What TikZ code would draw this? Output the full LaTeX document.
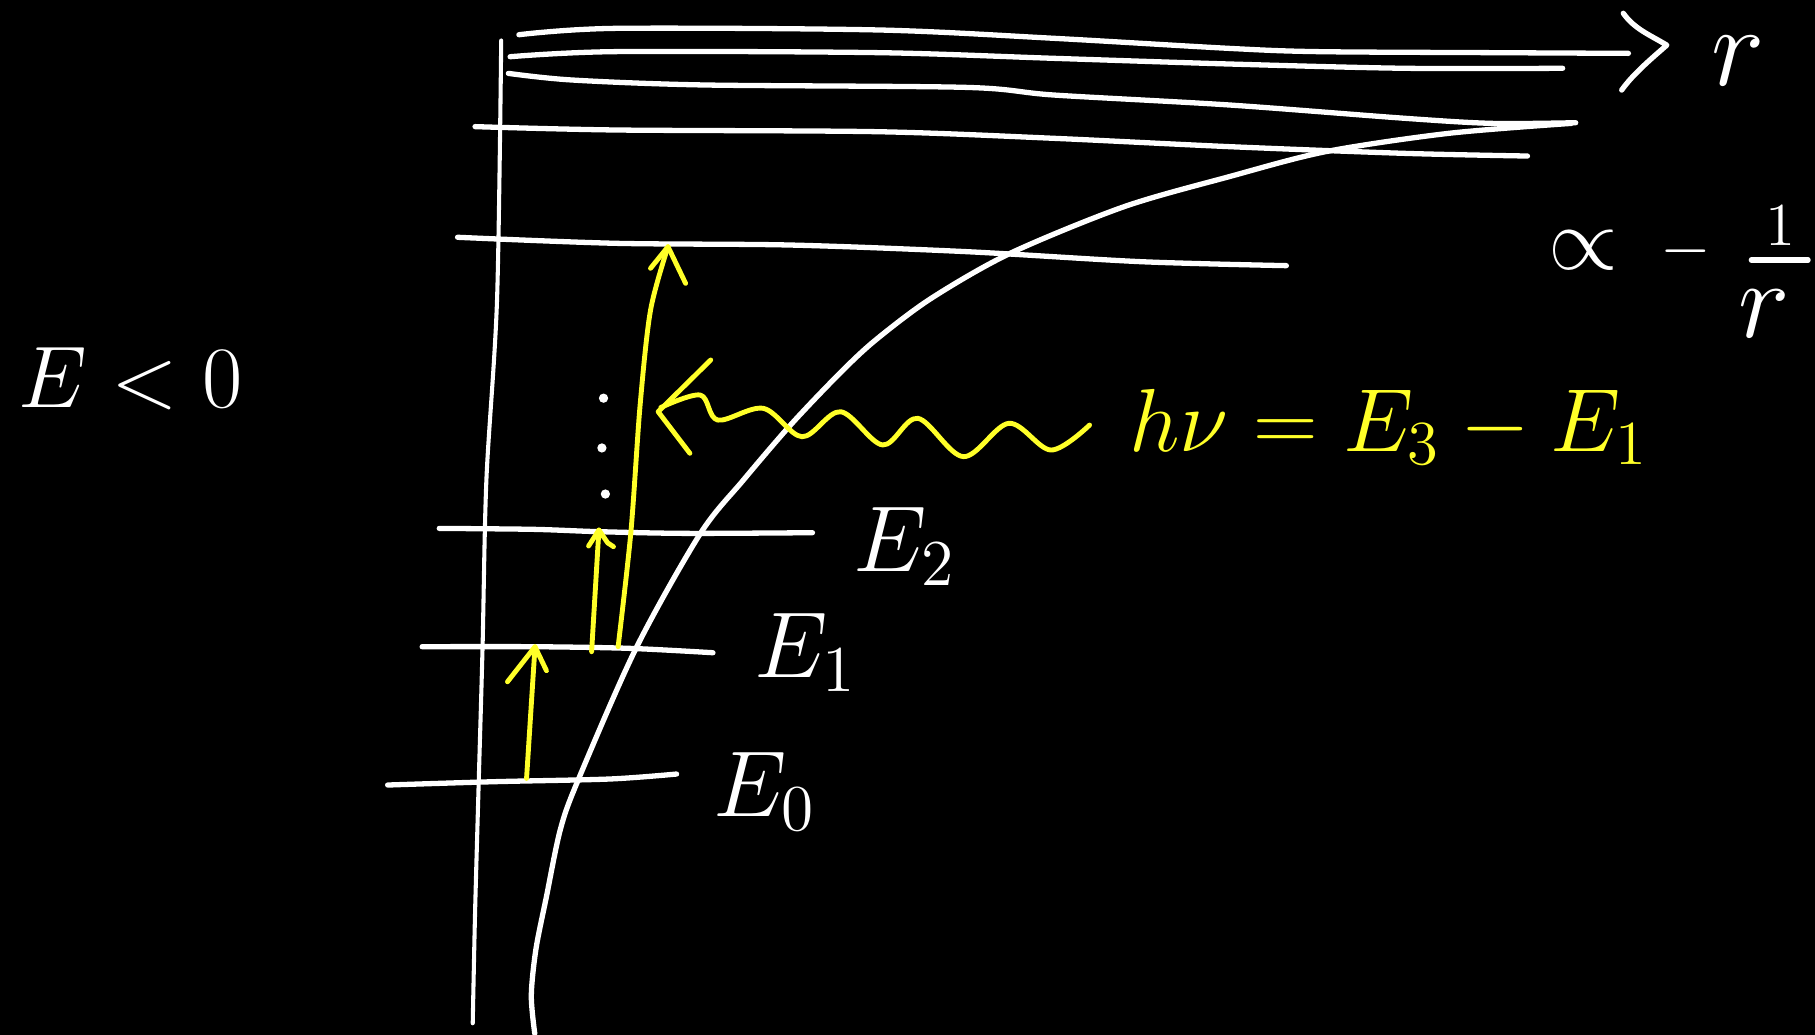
\RequirePackage{fix-cm}
\documentclass[tikz,border=0pt]{standalone}
\usepackage{amsmath}
\definecolor{hy}{RGB}{255,255,40}
\tikzset{
  wline/.style={white, line width=1.3pt, line cap=round, line join=round},
  axisline/.style={white, line width=1pt, line cap=round},
  yline/.style={hy, line width=1.2pt, line cap=round, line join=round},
  wtext/.style={white, inner sep=0pt},
  ytext/.style={hy, inner sep=0pt},
  dotmark/.style={white, fill=white, circle, inner sep=0pt, minimum size=0.8mm},
}
\begin{document}
\begin{tikzpicture}[x=0.01cm, y=-0.01cm]
\fill[black] (0,0) rectangle (1568,894);
\useasboundingbox (0,0) rectangle (1568,894);

% energy axis
\draw[axisline] plot[smooth] coordinates {(433,35) (429.4,259) (420.2,414.7) (416.9,558.7) (413.5,678) (410.4,789) (408.4,884)};

% r axis (top line) with hand-drawn head
\draw[wline] plot[smooth] coordinates {(448.3,30) (531.6,24.5) (759,25.9) (910.5,33.1) (1062,41.8) (1137.8,44.6) (1289.3,45.5) (1406.8,46.1)};
\coordinate (rtip) at (1440,39);
\draw[wline] (1402.4,11.5) .. controls (1412,25) and (1425,30) .. (rtip) .. controls (1425,52) and (1410,65) .. (1401,77.8);
\node[wtext, anchor=base west, font=\fontsize{28}{32}\selectfont] (rlab) at (1478,74) {$r$};

% dense upper levels
\draw[wline] plot[smooth] coordinates {(440.7,49) (531.6,44.6) (759,45.5) (910.5,50.4) (1062,55.3) (1213.6,59) (1350,59)};
\draw[wline] plot[smooth] coordinates {(439.2,63.4) (493.8,69.1) (607.4,73.4) (834.7,75.5) (910.5,82.1) (1062,90.7) (1213.6,102.2) (1289.3,106.6) (1361.3,106)};
\draw[wline] plot[smooth] coordinates {(410.4,109.4) (531.6,112.3) (759,113.8) (910.5,119.5) (1062,126.7) (1213.6,132.5) (1319.6,134.8)};
\draw[wline] plot[smooth] coordinates {(395.3,205) (531.6,210.2) (683.2,211.7) (834.7,217.4) (986.3,226.1) (1111.3,229.5)};

% lower levels
\draw[wline] plot[smooth] coordinates {(379.5,456.5) (460.5,457.3) (516.7,459.3) (592.8,460.8) (701.9,460.2)};
\draw[wline] plot[smooth] coordinates {(364.7,558.7) (460.5,558.7) (543.2,560.1) (615.9,563.9)};
\draw[wline] plot[smooth] coordinates {(334.9,678.2) (427.5,675.3) (526.7,673) (584.5,668.7)};

% potential curve
\draw[wline] plot[smooth] coordinates {(462,893) (459,860) (463,820) (472,775) (484,717) (499,675) (549.5,560) (605,461) (642,415) (684,366) (726,322) (756.5,293.7) (804.4,257.8) (872.6,218.9) (971,178.6) (1062,152.6) (1145.4,131) (1251.5,115.2) (1357.5,106.6)};

% labels
\node[wtext, font=\fontsize{21.5}{25}\selectfont] (eneg) at (113,327) {$E<0$};
\node[wtext, anchor=base west, font=\fontsize{23}{27}\selectfont] (e2lab) at (737,494) {$E_2$};
\node[wtext, anchor=base west, font=\fontsize{23}{27}\selectfont] (e1lab) at (651,585) {$E_1$};
\node[wtext, anchor=base west, font=\fontsize{23}{27}\selectfont] (e0lab) at (616,705) {$E_0$};
\node[wtext, font=\fontsize{22}{26}\selectfont] (prop) at (1368,216) {$\propto$};
\node[wtext, font=\fontsize{16}{20}\selectfont] (minus) at (1456,217) {$-$};
\node[wtext, font=\fontsize{15}{18}\selectfont] (fnum) at (1538,195) {$1$};
\draw[wline] (1513,224.6) -- (1562,224.6);
\node[wtext, font=\fontsize{27}{30}\selectfont] (fden) at (1524,271) {$r$};

% vertical dots
\node[dotmark] (d1) at (521.4,344) {};
\node[dotmark] (d2) at (520,387) {};
\node[dotmark] (d3) at (523,426.8) {};

% yellow transitions
\coordinate (a0s) at (454.9,672.5);
\coordinate (a0t) at (462.2,558.7);
\draw[yline] (a0s) -- (a0t);
\draw[yline] (438.4,589) -- (a0t) -- (472.1,579.4);

\coordinate (a1s) at (511.1,563);
\coordinate (a1t) at (517.4,457.9);
\draw[yline] (a1s) -- (a1t);
\draw[yline] (508.5,471.7) -- (a1t) -- (525,469) -- (530,472.3);

\coordinate (a2s) at (534,558.7);
\coordinate (a2t) at (577.1,213.1);
\draw[yline] plot[smooth] coordinates {(a2s) (545,460) (553,350) (562,268) (a2t)};
\draw[yline] (562,231.8) -- (a2t) -- (592.3,244.8);

% photon
\coordinate (ptip) at (568.6,355.7);
\draw[yline] (614,311) -- (ptip) -- (596,391.6);
\draw[yline] plot[smooth, tension=0.55] coordinates {(571,352) (605,341.3) (620.1,362.9) (659.5,352.8) (693,377.3) (726.2,355.7) (762.6,384.4) (792.9,361.4) (832.3,394.5) (871.7,365.7) (908,388.8) (941.3,367.2)};
\node[ytext, anchor=base west, font=\fontsize{22}{26}\selectfont] (eq) at (975,390) {$h\nu = E_3 - E_1$};
\end{tikzpicture}
\end{document}
